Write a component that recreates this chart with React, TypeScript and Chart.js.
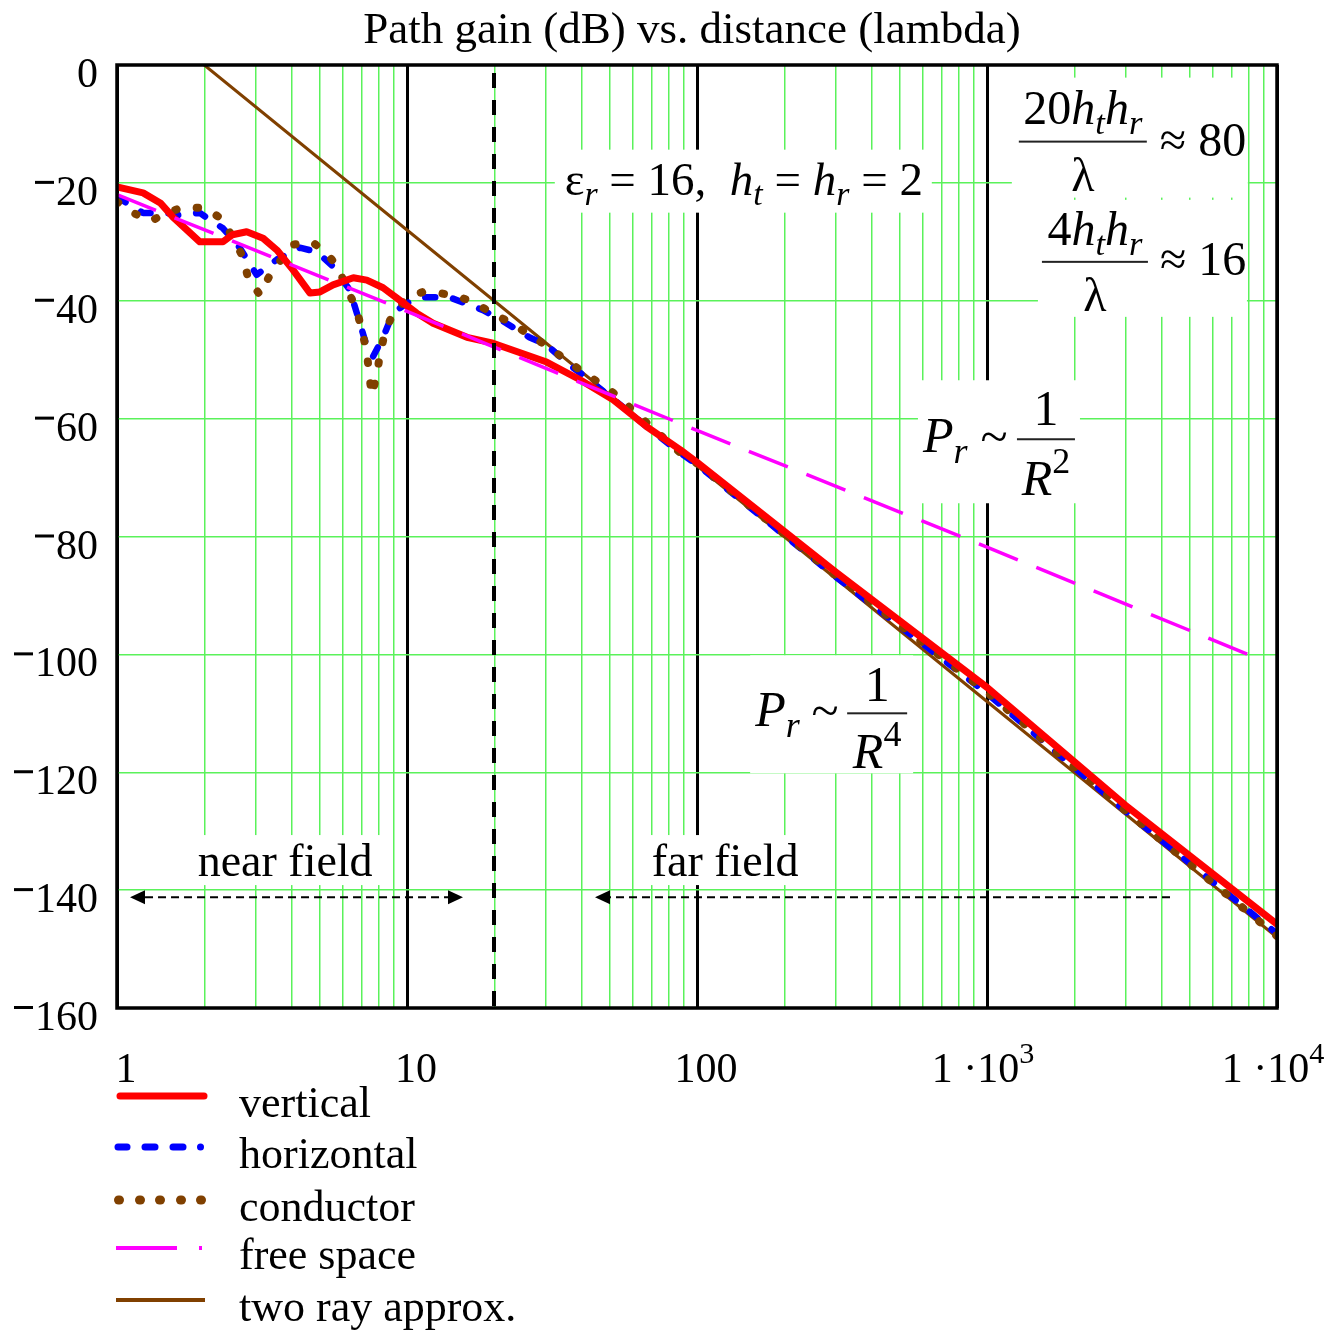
import React, { useEffect, useRef } from 'react';
import { Chart, registerables } from 'chart.js';

Chart.register(...registerables);

// ---------------- data (distance in wavelengths, path gain in dB) ----------------
const verticalDist = [1, 1.23, 1.41, 1.56, 1.93, 2.32, 2.5, 2.8, 3.19, 3.56, 4.05, 4.63, 5.01, 5.56, 6.53, 7.27, 8.27, 9.43, 10.8, 12.3, 16.1, 19.8, 30.3, 39.5, 51.4, 67.2, 87.6, 100, 300, 1000, 3000, 10000];
const verticalGain = [-20.7, -21.7, -23.4, -25.8, -30, -30, -28.8, -28.3, -29.4, -31.4, -34.8, -38.7, -38.5, -37.3, -36.1, -36.5, -37.8, -39.9, -42.1, -43.8, -46.2, -47.2, -50.4, -53.4, -56.8, -61.4, -65.3, -67.4, -86.0, -105.6, -125.6, -145.8];

const horizontalDist = [1, 1.23, 1.49, 1.6, 1.93, 2.14, 2.32, 2.65, 3.03, 3.56, 4.27, 4.89, 5.56, 6.35, 6.88, 7.27, 7.63, 8.27, 8.95, 10, 11.4, 14, 18.3, 22, 26.4, 30.3, 35.7, 41.7, 57.1, 67.2, 87.6, 100, 300, 1000, 3000, 10000];
const horizontalGain = [-22.4, -25.1, -25.1, -25.5, -25.1, -26.6, -27.7, -31, -35.6, -33, -31, -31.7, -34.2, -38.2, -43.8, -47.8, -49.5, -46.2, -42.1, -40.4, -39.4, -39.4, -41.6, -43.8, -46.2, -47.5, -50.6, -53.1, -58.5, -61.4, -65.8, -67.8, -86.8, -106.6, -126.6, -147.4];

const conductorDist = [1, 1.13, 1.3, 1.49, 1.69, 2.01, 2.3, 2.49, 2.72, 2.83, 3.11, 3.37, 4.01, 4.7, 5.29, 5.78, 6.25, 6.71, 6.99, 7.27, 7.39, 7.56, 7.87, 8.06, 8.38, 8.95, 10.07, 11.34, 12.99, 15.49, 17.6, 20.1, 23, 26.4, 29.4, 38.6, 51.4, 63.6, 87.6, 100, 300, 1000, 3000, 10000];
const conductorGain = [-23.2, -25, -26.5, -25.1, -24.1, -24.3, -26.1, -29, -32.6, -36.1, -39, -35.6, -30.5, -30, -31.9, -34.4, -38.2, -41.6, -45, -48.7, -52.1, -56, -52.6, -49.2, -45.5, -42.1, -39.5, -38.5, -38.7, -39.5, -40.7, -42.4, -43.8, -45.8, -47.2, -51.4, -55.6, -59.7, -65.8, -67.6, -86.6, -106.4, -126.5, -147.8];

const freeSpaceDist = [1, 10, 100, 1000, 9100];
const freeSpaceGain = [-22, -41.8, -62, -81.8, -101.2];

const twoRayDist = [2, 10, 100, 1000, 10000];
const twoRayGain = [0, -28, -68, -108, -148];

const legendLabels = ['vertical', 'horizontal', 'conductor', 'free space', 'two ray approx.'];
const titleText = 'Path gain (dB) vs. distance (lambda)';

const yTickValues = [0, -20, -40, -60, -80, -100, -120, -140, -160];
const xLabelValues = [1, 10, 100, 1000, 10000];
const xLabelMantissa = ['1', '10', '100', '1 \u00b710', '1 \u00b710'];
const xLabelExponent = ['', '', '', '3', '4'];
const xGridDecades = [1, 10, 100, 1000];
const xGridMultipliers = [1, 2, 3, 4, 5, 6, 7, 8, 9];
const boundaryDist = 20;

// annotation anchors (data coordinates)
const anchorParams = { x: 145, y: -22 };
const anchorRatio80 = { x: 2140, y: -13 };
const anchorRatio16 = { x: 2356, y: -33.4 };
const anchorR2 = { x: 1597, y: -63.5 };
const anchorR4 = { x: 418, y: -110 };
const anchorNear = { x: 3.8, y: -134.9 };
const anchorFar = { x: 125, y: -134.9 };
const nearArrow = { from: 1.109, to: 15.6, y: -141.2 };
const farArrow = { from: 4276, to: 44.5, y: -141.2 };

// ---------------- styling ----------------
const SERIF = '"Liberation Serif", "Times New Roman", serif';
const GREEN = 'rgb(90, 242, 90)';
const RED = '#ff0000';
const BLUE = '#0000ff';
const BROWN = '#804000';
const MAGENTA = '#ff00ff';

const fnt = (size: number, italic = false) => `${italic ? 'italic ' : ''}${size}px ${SERIF}`;

type Run = { t: string; it?: boolean; sub?: boolean; sup?: boolean };

function runsWidth(ctx: CanvasRenderingContext2D, runs: Run[], size: number) {
  let w = 0;
  for (const r of runs) {
    const s = r.sub || r.sup ? size * 0.72 : size;
    ctx.font = fnt(s, r.it);
    w += ctx.measureText(r.t).width;
  }
  return w;
}

function drawRuns(ctx: CanvasRenderingContext2D, runs: Run[], x: number, y: number, size: number, align: 'left' | 'center' | 'right') {
  const w = runsWidth(ctx, runs, size);
  let cx = align === 'left' ? x : align === 'center' ? x - w / 2 : x - w;
  ctx.textAlign = 'left';
  ctx.textBaseline = 'alphabetic';
  for (const r of runs) {
    const s = r.sub || r.sup ? size * 0.72 : size;
    ctx.font = fnt(s, r.it);
    const dy = r.sub ? size * 0.22 : r.sup ? -size * 0.45 : 0;
    ctx.fillText(r.t, cx, y + dy);
    cx += ctx.measureText(r.t).width;
  }
}

const pts = (xs: number[], ys: number[]) => xs.map((x, i) => ({ x, y: ys[i] }));
const isDecade = (v: number) => Math.abs(Math.log10(v) - Math.round(Math.log10(v))) < 1e-9;

function whiteBox(ctx: CanvasRenderingContext2D, cx: number, cy: number, b: number[]) {
  ctx.fillStyle = '#ffffff';
  ctx.fillRect(cx + b[0], cy + b[1], b[2] - b[0], b[3] - b[1]);
  ctx.fillStyle = '#000000';
}

function fraction(ctx: CanvasRenderingContext2D, cx: number, cy: number, half: number, num: Run[], den: Run[], numDy: number, denDy: number, size: number) {
  ctx.fillStyle = '#222';
  ctx.fillRect(cx - half, cy - 1, half * 2, 2);
  ctx.fillStyle = '#000';
  drawRuns(ctx, num, cx, cy + numDy, size, 'center');
  drawRuns(ctx, den, cx, cy + denDy, size, 'center');
}

function arrowHead(ctx: CanvasRenderingContext2D, tipX: number, y: number, dir: number) {
  ctx.beginPath();
  ctx.moveTo(tipX, y);
  ctx.lineTo(tipX - dir * 15, y - 7);
  ctx.lineTo(tipX - dir * 15, y + 7);
  ctx.closePath();
  ctx.fill();
}

const overlay = {
  id: 'overlay',
  beforeDatasetsDraw(chart: any) {
    const { ctx } = chart;
    const xs = chart.scales.x;
    const ys = chart.scales.y;
    const P = (a: { x: number; y: number }) => [xs.getPixelForValue(a.x), ys.getPixelForValue(a.y)];
    ctx.save();
    ctx.fillStyle = '#000';

    // parameters
    let [cx, cy] = P(anchorParams);
    whiteBox(ctx, cx, cy, [-189, -45, 188, 18]);
    drawRuns(ctx, [
      { t: '\u03b5' }, { t: 'r', it: true, sub: true }, { t: ' = 16,  ' },
      { t: 'h', it: true }, { t: 't', it: true, sub: true }, { t: ' = ' },
      { t: 'h', it: true }, { t: 'r', it: true, sub: true }, { t: ' = 2' },
    ], cx, cy, 47, 'center');

    // 20 ht hr / lambda ~ 80
    [cx, cy] = P(anchorRatio80);
    whiteBox(ctx, cx, cy, [-71, -64, 165, 56]);
    fraction(ctx, cx, cy, 64,
      [{ t: '20' }, { t: 'h', it: true }, { t: 't', it: true, sub: true }, { t: 'h', it: true }, { t: 'r', it: true, sub: true }],
      [{ t: '\u03bb' }], -18, 49, 48);
    drawRuns(ctx, [{ t: '\u2248 80' }], cx + 77, cy + 14, 48, 'left');

    // 4 ht hr / lambda ~ 16
    [cx, cy] = P(anchorRatio16);
    whiteBox(ctx, cx, cy, [-57, -62, 152, 55]);
    fraction(ctx, cx, cy, 53,
      [{ t: '4' }, { t: 'h', it: true }, { t: 't', it: true, sub: true }, { t: 'h', it: true }, { t: 'r', it: true, sub: true }],
      [{ t: '\u03bb' }], -17, 49, 48);
    drawRuns(ctx, [{ t: '\u2248 16' }], cx + 65, cy + 13, 48, 'left');

    // Pr ~ 1/R^2
    [cx, cy] = P(anchorR2);
    whiteBox(ctx, cx, cy, [-128, -59, 34, 64]);
    drawRuns(ctx, [{ t: 'P', it: true }, { t: 'r', it: true, sub: true }], cx - 123, cy + 13, 50, 'left');
    drawRuns(ctx, [{ t: '~' }], cx - 52, cy + 14, 50, 'center');
    fraction(ctx, cx, cy, 29, [{ t: '1' }], [{ t: 'R', it: true }, { t: '2', sup: true }], -14, 56, 50);

    // Pr ~ 1/R^4
    [cx, cy] = P(anchorR4);
    whiteBox(ctx, cx, cy, [-127, -58, 36, 60]);
    drawRuns(ctx, [{ t: 'P', it: true }, { t: 'r', it: true, sub: true }], cx - 122, cy + 13, 50, 'left');
    drawRuns(ctx, [{ t: '~' }], cx - 52, cy + 14, 50, 'center');
    fraction(ctx, cx, cy, 30, [{ t: '1' }], [{ t: 'R', it: true }, { t: '4', sup: true }], -12, 55, 50);

    // near / far field labels
    [cx, cy] = P(anchorNear);
    whiteBox(ctx, cx, cy, [-92, -25, 95, 25]);
    drawRuns(ctx, [{ t: 'near field' }], cx, cy + 16, 46, 'center');
    [cx, cy] = P(anchorFar);
    whiteBox(ctx, cx, cy, [-82, -25, 80, 25]);
    drawRuns(ctx, [{ t: 'far field' }], cx, cy + 16, 46, 'center');

    // arrows
    ctx.strokeStyle = '#000';
    ctx.fillStyle = '#000';
    ctx.lineWidth = 2;
    ctx.setLineDash([8, 5]);
    const ny = ys.getPixelForValue(nearArrow.y);
    const n0 = xs.getPixelForValue(nearArrow.from);
    const n1 = xs.getPixelForValue(nearArrow.to);
    ctx.beginPath(); ctx.moveTo(n0 + 15, ny); ctx.lineTo(n1 - 15, ny); ctx.stroke();
    const f0 = xs.getPixelForValue(farArrow.from);
    const f1 = xs.getPixelForValue(farArrow.to);
    ctx.beginPath(); ctx.moveTo(f0, ny); ctx.lineTo(f1 + 15, ny); ctx.stroke();
    ctx.setLineDash([]);
    arrowHead(ctx, n0, ny, -1);
    arrowHead(ctx, n1, ny, 1);
    arrowHead(ctx, f1, ny, -1);
    ctx.restore();
  },
  afterDatasetsDraw(chart: any) {
    const { ctx, chartArea } = chart;
    const xs = chart.scales.x;
    ctx.save();
    // boundary dashed line
    const bx = Math.round(xs.getPixelForValue(boundaryDist));
    ctx.strokeStyle = '#000';
    ctx.lineWidth = 4;
    ctx.lineCap = 'butt';
    ctx.setLineDash([15, 12]);
    ctx.beginPath(); ctx.moveTo(bx, chartArea.top + 8); ctx.lineTo(bx, chartArea.bottom + 6); ctx.stroke();
    ctx.setLineDash([]);
    // frame
    ctx.lineWidth = 3.5;
    ctx.strokeRect(chartArea.left, chartArea.top, chartArea.right - chartArea.left, chartArea.bottom - chartArea.top);
    ctx.restore();
  },
  afterDraw(chart: any) {
    const { ctx } = chart;
    const xs = chart.scales.x;
    const ys = chart.scales.y;
    ctx.save();
    ctx.fillStyle = '#000';
    // title
    drawRuns(ctx, [{ t: titleText }], 692, 43, 45, 'center');
    // y tick labels
    yTickValues.forEach((v) => {
      const py = ys.getPixelForValue(v);
      const digits = String(Math.abs(v));
      ctx.font = fnt(42);
      ctx.textAlign = 'right';
      ctx.textBaseline = 'alphabetic';
      ctx.fillText(digits, 98, py + 22);
      if (v < 0) {
        const w = ctx.measureText(digits).width;
        ctx.fillRect(98 - w - 21, py - 2, 19, 3);
      }
    });
    // x tick labels
    xLabelValues.forEach((v, i) => {
      const px = xs.getPixelForValue(v);
      const runs: Run[] = [{ t: xLabelMantissa[i] }];
      if (xLabelExponent[i]) runs.push({ t: xLabelExponent[i], sup: true });
      drawRuns(ctx, runs, px + (xLabelExponent[i] ? -4 : 9), 1082, 42, 'center');
    });
    // legend
    const rowY = [1096, 1147, 1200, 1248, 1300];
    ctx.lineJoin = 'round';
    // vertical
    ctx.strokeStyle = RED; ctx.lineWidth = 7; ctx.lineCap = 'round';
    ctx.beginPath(); ctx.moveTo(120, rowY[0]); ctx.lineTo(204, rowY[0]); ctx.stroke();
    // horizontal
    ctx.strokeStyle = BLUE; ctx.lineWidth = 7; ctx.lineCap = 'round';
    [[118, 127], [145, 155], [173, 183]].forEach(([a, b]) => { ctx.beginPath(); ctx.moveTo(a, rowY[1]); ctx.lineTo(b, rowY[1]); ctx.stroke(); });
    ctx.beginPath(); ctx.arc(200.5, rowY[1], 3.5, 0, Math.PI * 2); ctx.fillStyle = BLUE; ctx.fill();
    // conductor
    ctx.strokeStyle = BROWN; ctx.lineWidth = 9; ctx.lineCap = 'round';
    [119, 140, 160, 181, 201].forEach((a) => { ctx.beginPath(); ctx.moveTo(a - 0.5, rowY[2]); ctx.lineTo(a + 0.5, rowY[2]); ctx.stroke(); });
    // free space
    ctx.strokeStyle = MAGENTA; ctx.lineWidth = 4; ctx.lineCap = 'butt';
    ctx.beginPath(); ctx.moveTo(116, rowY[3]); ctx.lineTo(177, rowY[3]); ctx.stroke();
    ctx.beginPath(); ctx.moveTo(199, rowY[3]); ctx.lineTo(202, rowY[3]); ctx.stroke();
    // two ray
    ctx.strokeStyle = BROWN; ctx.lineWidth = 4; ctx.lineCap = 'butt';
    ctx.beginPath(); ctx.moveTo(116, rowY[4]); ctx.lineTo(205, rowY[4]); ctx.stroke();
    ctx.fillStyle = '#000';
    legendLabels.forEach((l, i) => drawRuns(ctx, [{ t: l }], 239, rowY[i] + 21, 44, 'left'));
    ctx.restore();
  },
};

export default function App() {
  const ref = useRef<HTMLCanvasElement | null>(null);
  useEffect(() => {
    const canvas = ref.current;
    if (!canvas) return;
    const xGridValues: number[] = [];
    xGridDecades.forEach((d) => xGridMultipliers.forEach((m) => xGridValues.push(m * d)));
    xGridValues.push(10000);

    const chart = new Chart(canvas, {
      type: 'line',
      data: {
        datasets: [
          { label: legendLabels[3], data: pts(freeSpaceDist, freeSpaceGain), borderColor: MAGENTA, borderWidth: 3.5, borderDash: [42, 20], borderCapStyle: 'butt', pointRadius: 0, tension: 0 },
          { label: legendLabels[0], data: pts(verticalDist, verticalGain), borderColor: RED, borderWidth: 7, borderCapStyle: 'round', borderJoinStyle: 'round', pointRadius: 0, tension: 0 },
          { label: legendLabels[2], data: pts(conductorDist, conductorGain), borderColor: BROWN, borderWidth: 8, borderDash: [1.5, 20.5], borderCapStyle: 'round', borderJoinStyle: 'round', pointRadius: 0, tension: 0 },
          { label: legendLabels[1], data: pts(horizontalDist, horizontalGain), borderColor: BLUE, borderWidth: 6.5, borderDash: [10, 18], borderCapStyle: 'round', borderJoinStyle: 'round', pointRadius: 0, tension: 0 },
          { label: legendLabels[4], data: pts(twoRayDist, twoRayGain), borderColor: BROWN, borderWidth: 3, pointRadius: 0, tension: 0 },
        ] as any,
      },
      options: {
        responsive: false,
        animation: false,
        devicePixelRatio: 1,
        layout: { padding: { top: 65, right: 61, left: 0, bottom: 0 } },
        plugins: { legend: { display: false }, tooltip: { enabled: false }, title: { display: false } },
        scales: {
          x: {
            type: 'logarithmic',
            min: 1,
            max: 10000,
            border: { display: false },
            ticks: { display: false },
            grid: {
              drawTicks: false,
              color: (c: any) => (c.tick && isDecade(c.tick.value) ? '#000000' : GREEN),
              lineWidth: (c: any) => (c.tick && isDecade(c.tick.value) ? 3 : 1.5),
            },
            afterBuildTicks: (s: any) => { s.ticks = xGridValues.map((value) => ({ value })); },
            afterFit: (s: any) => { s.height = 324; },
          },
          y: {
            type: 'linear',
            min: -160,
            max: 0,
            border: { display: false },
            ticks: { display: false },
            grid: { drawTicks: false, color: GREEN, lineWidth: 1.5 },
            afterBuildTicks: (s: any) => { s.ticks = yTickValues.map((value) => ({ value })); },
            afterFit: (s: any) => { s.width = 117; },
          },
        },
      } as any,
      plugins: [overlay],
    });
    return () => chart.destroy();
  }, []);

  return (
    <div style={{ position: 'absolute', left: 0, top: 0, width: 1338, height: 1332, background: '#ffffff' }}>
      <canvas ref={ref} width={1338} height={1332} style={{ display: 'block', width: 1338, height: 1332 }} />
    </div>
  );
}
